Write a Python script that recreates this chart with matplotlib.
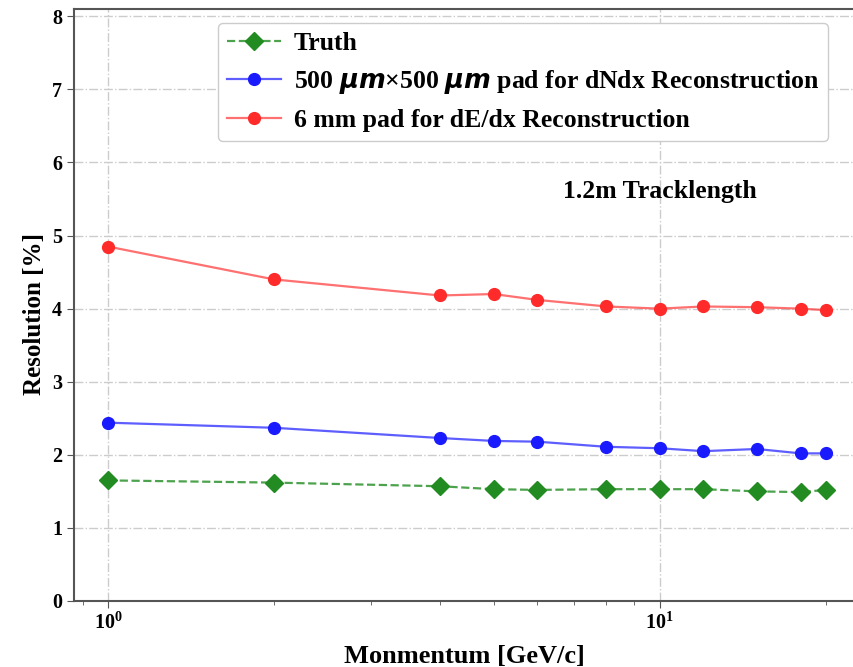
import matplotlib
matplotlib.use("Agg")
import matplotlib.pyplot as plt
from matplotlib.ticker import LogLocator

# momentum points [GeV/c]
momentum = [1, 2, 4, 5, 6, 8, 10, 12, 15, 18, 20]

# resolution [%]
truth = [1.65, 1.62, 1.57, 1.53, 1.52, 1.53, 1.53, 1.53, 1.50, 1.49, 1.52]
dndx_pad = [2.44, 2.37, 2.23, 2.19, 2.18, 2.11, 2.09, 2.05, 2.08, 2.02, 2.02]
dedx_pad = [4.85, 4.40, 4.18, 4.20, 4.12, 4.03, 4.00, 4.03, 4.02, 4.00, 3.98]

labels = ["Truth",
          "500 $\\mu m$\u00d7500 $\\mu m$ pad for dNdx Reconstruction",
          "6 mm pad for dE/dx Reconstruction"]

plt.rcParams['font.family'] = 'Liberation Serif'
plt.rcParams['font.weight'] = 'bold'
plt.rcParams['mathtext.fontset'] = 'custom'
plt.rcParams['mathtext.rm'] = 'Liberation Serif:bold'
plt.rcParams['mathtext.bf'] = 'Liberation Serif:bold'
plt.rcParams['mathtext.it'] = 'DejaVu Sans:italic'

fig = plt.figure(figsize=(8.54, 6.67), dpi=100)
ax = fig.add_axes([74/854, 66/667, 1 - 74/854, 592/667])

ax.plot(momentum, truth, '--', color=(0.13, 0.55, 0.13, 0.8), lw=1.6,
        marker='D', ms=9, mfc='#228b22', mec='#228b22', label=labels[0])
ax.plot(momentum, dndx_pad, '-', color=(0.1, 0.1, 1.0, 0.7), lw=1.6,
        marker='o', ms=8.5, mfc='#1a1aff', mec='#1a1aff', label=labels[1])
ax.plot(momentum, dedx_pad, '-', color=(1.0, 0.2, 0.2, 0.7), lw=1.6,
        marker='o', ms=8.5, mfc='#ff2a2a', mec='#ff2a2a', label=labels[2])

ax.set_xscale('log')
ax.set_xlim(0.868, 22.5)
ax.set_ylim(0, 8.1)
ax.xaxis.set_major_locator(LogLocator(base=10))
ax.grid(True, which='major', linestyle='-.', color='#cccccc', lw=1.0)
ax.spines['right'].set_visible(False)
for s in ['left', 'bottom', 'top']:
    ax.spines[s].set_color('#555555')
    ax.spines[s].set_linewidth(1.5)

ax.tick_params(axis='both', which='major', labelsize=14.5, length=5, color='#555555')
ax.tick_params(axis='x', which='minor', length=3, color='#555555')

ax.set_xlabel('Monmentum [GeV/c]', fontsize=19, fontweight='bold', labelpad=8)
ax.set_ylabel('Resolution [%]', fontsize=18, fontweight='bold')
ax.yaxis.set_label_coords(-0.036, 0.485)

ax.text(10, 5.6, '1.2m Tracklength', fontsize=18.5, fontweight='bold',
        ha='center', va='center')

leg = ax.legend(loc='upper left', bbox_to_anchor=(218/854, 1 - 23/667),
                bbox_transform=fig.transFigure, borderaxespad=0,
                fontsize=18.5, labelspacing=0.5, handlelength=2.1,
                handletextpad=0.5, borderpad=0.35, framealpha=1.0)
leg.get_frame().set_edgecolor('#cccccc')

fig.savefig('out.png', dpi=100)
